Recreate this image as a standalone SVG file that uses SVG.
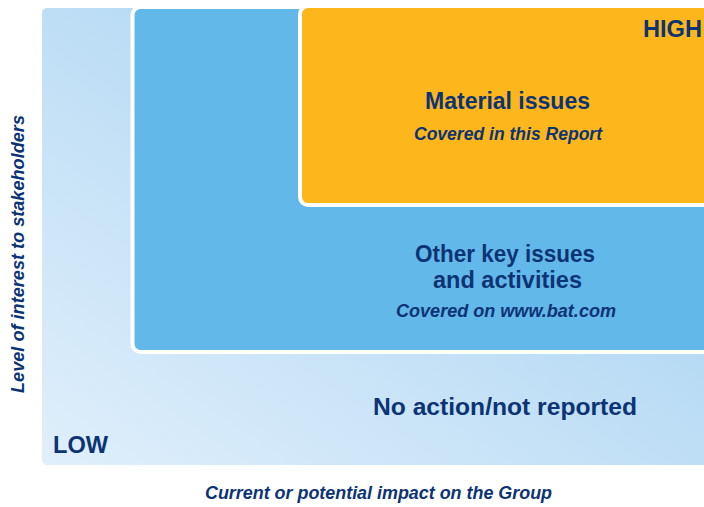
<svg xmlns="http://www.w3.org/2000/svg" width="704" height="507" viewBox="0 0 704 507">
<defs>
<linearGradient id="bg" x1="0" y1="1" x2="1" y2="0">
<stop offset="0" stop-color="#e0effb"/>
<stop offset="1" stop-color="#9ccdf0"/>
</linearGradient>
</defs>
<style>
text{font-family:"Liberation Sans",Arial,sans-serif;fill:#0c3475;font-weight:bold}
.t{font-size:23.5px;text-anchor:middle}
.s{font-size:19px;font-style:italic;text-anchor:middle}
.k{font-size:24px}
</style>
<rect width="704" height="507" fill="#ffffff"/>
<g id="low-zone">
<rect x="42" y="8" width="680" height="457" rx="5" fill="url(#bg)"/>
<text class="t" x="505" y="415" textLength="264" lengthAdjust="spacingAndGlyphs">No action/not reported</text>
<text class="k" x="53" y="452.5" textLength="55" lengthAdjust="spacingAndGlyphs">LOW</text>
</g>
<g id="other-zone">
<rect x="132.5" y="7" width="600" height="345" rx="8" fill="#62b8e8" stroke="#ffffff" stroke-width="4"/>
<text class="t" x="505" y="261.5" textLength="180" lengthAdjust="spacingAndGlyphs">Other key issues</text>
<text class="t" x="507.5" y="287.5" textLength="149" lengthAdjust="spacingAndGlyphs">and activities</text>
<text class="s" x="506" y="317" textLength="220" lengthAdjust="spacingAndGlyphs">Covered on www.bat.com</text>
</g>
<g id="material-zone">
<rect x="300" y="6" width="420" height="199" rx="8" fill="#fdb71c" stroke="#ffffff" stroke-width="4"/>
<text class="t" x="507.5" y="108.5" textLength="165" lengthAdjust="spacingAndGlyphs">Material issues</text>
<text class="s" x="508" y="140" textLength="188" lengthAdjust="spacingAndGlyphs">Covered in this Report</text>
<text class="k" x="702" y="37" text-anchor="end" textLength="59" lengthAdjust="spacingAndGlyphs">HIGH</text>
</g>
<rect x="0" y="0" width="704" height="6" fill="#ffffff"/>
<g id="axes">
<text class="s" x="378.5" y="499" textLength="347" lengthAdjust="spacingAndGlyphs">Current or potential impact on the Group</text>
<text class="s" transform="translate(24 254) rotate(-90)" x="0" y="0" textLength="278" lengthAdjust="spacingAndGlyphs">Level of interest to stakeholders</text>
</g>
</svg>
